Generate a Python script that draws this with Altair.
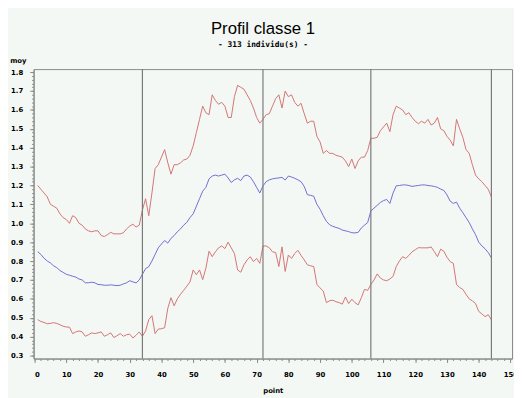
import altair as alt
import pandas as pd

# point index 1..144
points = list(range(1, 145))

upper = [
    1.20, 1.18, 1.16, 1.14, 1.10, 1.09, 1.08, 1.05, 1.03, 1.02,
    1.00, 1.04, 1.03, 1.00, 0.99, 0.97, 0.96, 0.955, 0.96, 0.96,
    0.935, 0.93, 0.94, 0.952, 0.944, 0.944, 0.944, 0.95, 0.97, 0.985,
    0.995, 0.98, 0.99, 1.07, 1.13, 1.04, 1.16, 1.29, 1.31, 1.35,
    1.39, 1.32, 1.26, 1.31, 1.31, 1.32, 1.335, 1.34, 1.36, 1.41,
    1.48, 1.55, 1.62, 1.585, 1.575, 1.68, 1.65, 1.63, 1.64, 1.62,
    1.56, 1.56, 1.67, 1.73, 1.72, 1.71, 1.68, 1.65, 1.61, 1.56,
    1.53, 1.55, 1.575, 1.58, 1.62, 1.66, 1.68, 1.61, 1.70, 1.67,
    1.68, 1.64, 1.62, 1.635, 1.58, 1.53, 1.54, 1.54, 1.46, 1.43,
    1.37, 1.385, 1.37, 1.37, 1.36, 1.355, 1.35, 1.33, 1.30, 1.34,
    1.29, 1.33, 1.35, 1.35, 1.385, 1.45, 1.45, 1.455, 1.49, 1.51,
    1.53, 1.485, 1.575, 1.62, 1.61, 1.60, 1.575, 1.585, 1.56, 1.54,
    1.527, 1.54, 1.53, 1.55, 1.52, 1.53, 1.56, 1.50, 1.49, 1.46,
    1.44, 1.41, 1.55, 1.50, 1.455, 1.39, 1.37, 1.31, 1.255, 1.235,
    1.22, 1.20, 1.18, 1.14,
]

mean = [
    0.85, 0.835, 0.815, 0.80, 0.79, 0.775, 0.765, 0.75, 0.74, 0.73,
    0.725, 0.72, 0.715, 0.705, 0.70, 0.685, 0.685, 0.688, 0.685, 0.676,
    0.675, 0.672, 0.672, 0.674, 0.672, 0.670, 0.672, 0.679, 0.685, 0.696,
    0.69, 0.684, 0.70, 0.73, 0.76, 0.77, 0.80, 0.835, 0.87, 0.89,
    0.909, 0.895, 0.92, 0.935, 0.955, 0.97, 0.99, 1.005, 1.03, 1.05,
    1.09, 1.13, 1.17, 1.19, 1.235, 1.25, 1.255, 1.25, 1.255, 1.26,
    1.24, 1.216, 1.23, 1.238, 1.226, 1.25, 1.255, 1.245, 1.22, 1.19,
    1.16, 1.198, 1.22, 1.23, 1.235, 1.238, 1.24, 1.243, 1.229, 1.25,
    1.245, 1.238, 1.23, 1.22, 1.195, 1.151, 1.148, 1.143, 1.10, 1.074,
    1.04, 1.01, 0.992, 0.984, 0.978, 0.973, 0.964, 0.96, 0.956, 0.95,
    0.949, 0.952, 0.975, 0.99, 1.004, 1.065, 1.08, 1.095, 1.11, 1.12,
    1.126, 1.105, 1.16, 1.198, 1.20, 1.203, 1.203, 1.20, 1.195, 1.198,
    1.20, 1.203, 1.203, 1.20, 1.198, 1.195, 1.19, 1.181, 1.174, 1.15,
    1.117, 1.105, 1.112, 1.08, 1.056, 1.03, 1.004, 0.97, 0.94, 0.90,
    0.88, 0.865, 0.845, 0.817,
]

lower = [
    0.49, 0.48, 0.475, 0.468, 0.47, 0.474, 0.47, 0.463, 0.455, 0.451,
    0.45, 0.416, 0.425, 0.43, 0.425, 0.402, 0.41, 0.42, 0.416, 0.42,
    0.425, 0.402, 0.41, 0.42, 0.395, 0.405, 0.416, 0.402, 0.41, 0.413,
    0.393, 0.407, 0.425, 0.402, 0.43, 0.49, 0.511, 0.416, 0.44, 0.442,
    0.447, 0.55, 0.606, 0.563, 0.60, 0.624, 0.645, 0.667, 0.69, 0.753,
    0.728, 0.753, 0.702, 0.762, 0.852, 0.823, 0.849, 0.87, 0.88, 0.866,
    0.90, 0.87, 0.84, 0.753, 0.741, 0.78, 0.806, 0.823, 0.797, 0.814,
    0.788, 0.88, 0.88, 0.87, 0.849, 0.845, 0.771, 0.875, 0.745, 0.832,
    0.814, 0.84, 0.857, 0.83, 0.806, 0.78, 0.775, 0.771, 0.676, 0.658,
    0.641, 0.58, 0.59, 0.593, 0.585, 0.58, 0.572, 0.61, 0.575, 0.598,
    0.58, 0.568, 0.606, 0.65, 0.645, 0.676, 0.70, 0.732, 0.71, 0.70,
    0.696, 0.705, 0.719, 0.771, 0.80, 0.823, 0.814, 0.83, 0.849, 0.86,
    0.871, 0.870, 0.870, 0.870, 0.875, 0.85, 0.823, 0.863, 0.852, 0.82,
    0.797, 0.788, 0.676, 0.66, 0.650, 0.624, 0.60, 0.589, 0.575, 0.534,
    0.520, 0.506, 0.516, 0.489,
]

separators = [34, 72, 106, 144]

series_names = ["haut", "moy", "bas"]
series_colors = ["#d27474", "#6e6ed2", "#d27474"]

x_ticks = list(range(0, 151, 10))
x_minor = list(range(0, 151, 2))
y_ticks = [round(0.3 + 0.1 * k, 1) for k in range(16)]
y_minor = [round(0.3 + 0.02 * k, 2) for k in range(76)]

assert len(upper) == len(mean) == len(lower) == len(points) == 144

rows = []
for name, vals in zip(series_names, [upper, mean, lower]):
    for p, v in zip(points, vals):
        rows.append({"point": p, "moy": v, "serie": name})
df = pd.DataFrame(rows)
sep_df = pd.DataFrame({"point": separators})
minor_df = pd.DataFrame({"point": separators[:1], "moy": [1.0]})

XDOM = [-0.3, 150.5]
YDOM = [0.284, 1.816]
FRAME = "#8a8a8a"
BG = "#f4f8f4"
xscale = alt.Scale(domain=XDOM, nice=False, zero=False, padding=0)
yscale = alt.Scale(domain=YDOM, nice=False, zero=False, padding=0)

lines = alt.Chart(df).mark_line(strokeWidth=1, clip=True).encode(
    x=alt.X("point:Q", scale=xscale,
            axis=alt.Axis(values=x_ticks, orient="bottom", title="point",
                          tickSize=4, labelPadding=8,
                          labelFontSize=7, labelFont="DejaVu Sans", labelFontWeight="bold",
                          titleFontSize=7, titleFont="DejaVu Sans", titleFontWeight="bold",
                          titleY=34, titleBaseline="alphabetic",
                          domainColor=FRAME, tickColor=FRAME, labelColor="black",
                          titleColor="black", grid=False)),
    y=alt.Y("moy:Q", scale=yscale,
            axis=alt.Axis(values=y_ticks, orient="left", format=".1f", title="moy",
                          tickSize=4, labelPadding=7,
                          labelFontSize=7, labelFont="DejaVu Sans", labelFontWeight="bold",
                          titleFontSize=7, titleFont="DejaVu Sans", titleFontWeight="bold",
                          titleAngle=0, titleX=-16, titleY=-6, titleAlign="center",
                          titleBaseline="bottom",
                          domainColor=FRAME, tickColor=FRAME, labelColor="black",
                          titleColor="black", grid=False)),
    color=alt.Color("serie:N", scale=alt.Scale(domain=series_names, range=series_colors),
                    legend=None),
    detail="serie:N",
)

rules = alt.Chart(sep_df).mark_rule(color="#7a7a7a", strokeWidth=1.2).encode(
    x=alt.X("point:Q", scale=xscale,
            axis=alt.Axis(values=x_minor, orient="bottom", title=None, labels=False,
                          tickSize=2, domain=False, tickColor=FRAME, grid=False)),
    y=alt.value(0),
    y2=alt.value(294),
)

minor_y = alt.Chart(minor_df).mark_point(opacity=0).encode(
    x=alt.X("point:Q", scale=xscale, axis=None),
    y=alt.Y("moy:Q", scale=yscale,
            axis=alt.Axis(values=y_minor, orient="left", title=None, labels=False,
                          tickSize=2, domain=False, tickColor=FRAME, grid=False)),
)

chart = alt.layer(lines, rules, minor_y).resolve_axis(
    x="independent", y="independent"
).properties(
    width=486,
    height=294,
    autosize=alt.AutoSizeParams(type="none"),
    padding={"left": 26, "top": 59, "right": 2, "bottom": 37},
    background=BG,
    title=alt.TitleParams(
        text="Profil classe 1",
        subtitle="- 313 individu(s) -",
        anchor="middle",
        font="Liberation Sans",
        fontSize=17,
        fontWeight="normal",
        color="black",
        subtitleFont="DejaVu Sans Mono",
        subtitleFontSize=8,
        subtitleFontWeight="bold",
        subtitleColor="black",
        subtitlePadding=4,
        offset=6,
        dx=-10,
    ),
).configure_view(
    stroke=FRAME, strokeWidth=1, fill=BG
)

chart.save("out.html", embed_options={"renderer": "svg", "actions": False})
